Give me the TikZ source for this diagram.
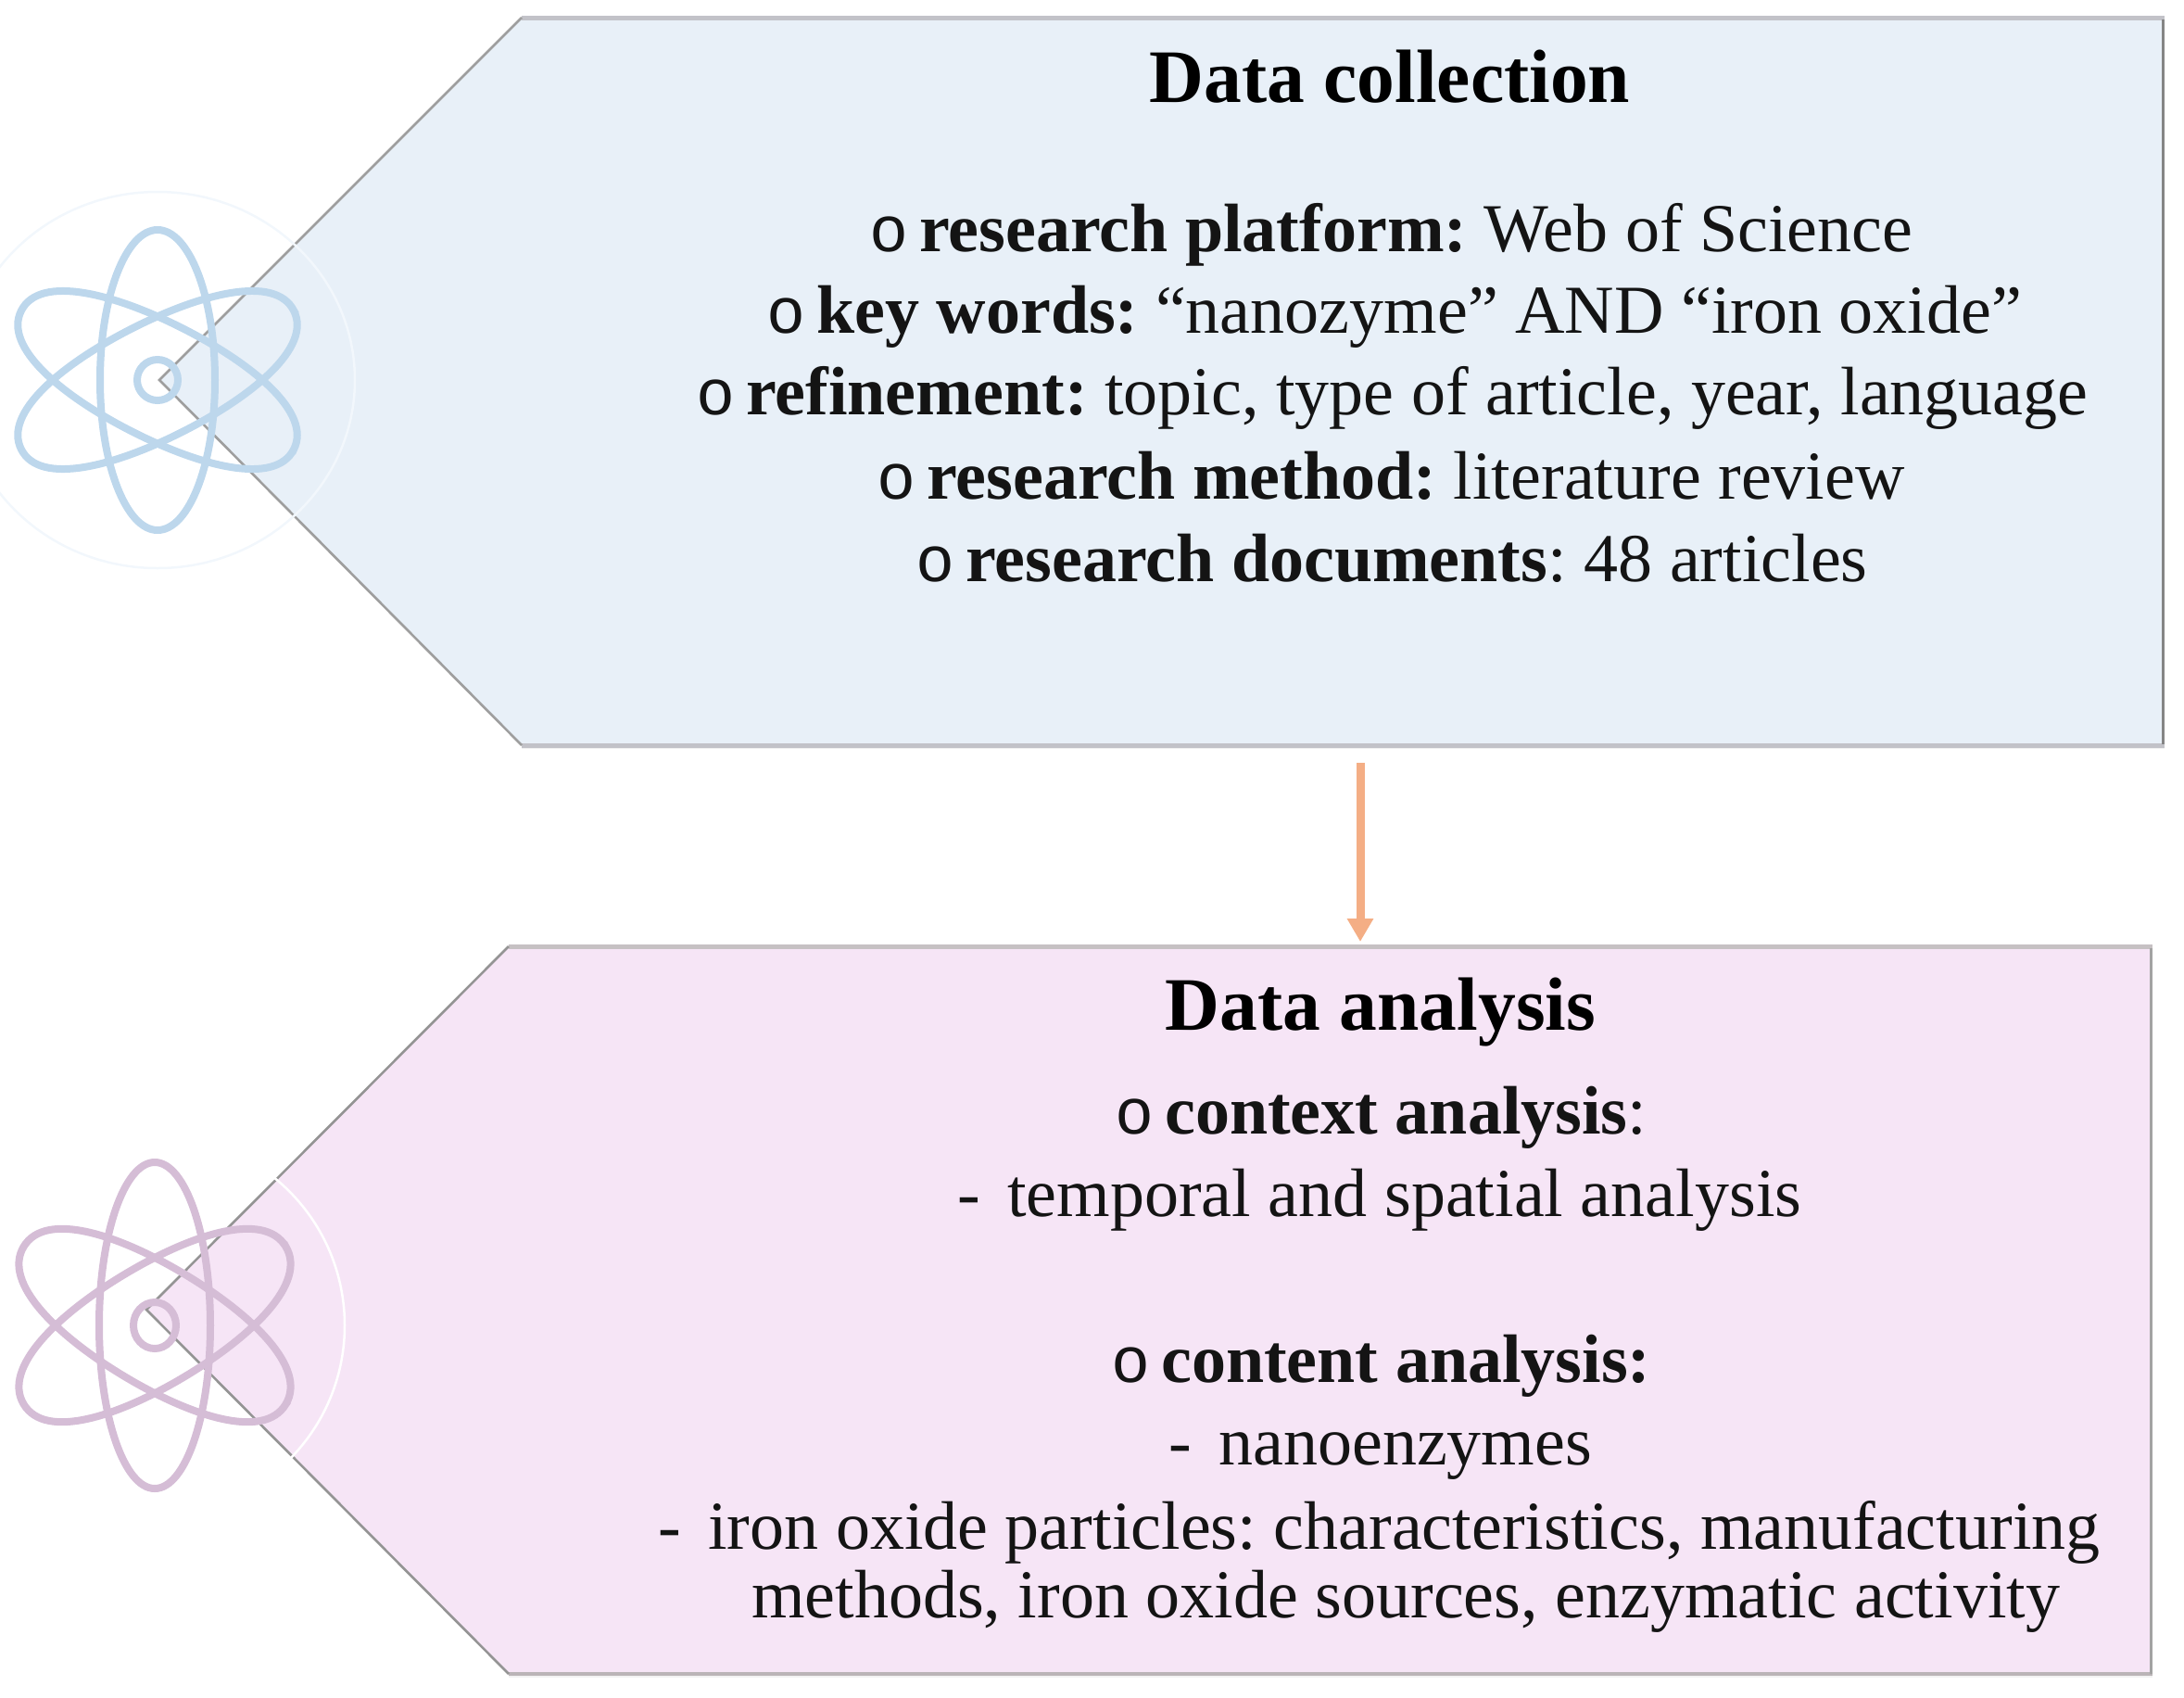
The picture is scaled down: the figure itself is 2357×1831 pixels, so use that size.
\documentclass[tikz,border=0pt]{standalone}
\usepackage{fontspec}
\setmainfont{Liberation Serif}
\newfontfamily\bulfont{Liberation Mono}
\usetikzlibrary{arrows.meta}
\definecolor{bluefill}{HTML}{E8F0F8}
\definecolor{pinkfill}{HTML}{F6E5F6}
\definecolor{blueatom}{HTML}{BDD7EC}
\definecolor{pinkatom}{HTML}{D5BDD6}
\definecolor{arrowc}{HTML}{F4AE85}
\definecolor{paleline}{HTML}{F2F7FC}
\newcommand{\bul}{{\fontsize{70}{74}\selectfont\bulfont\mdseries o}\hspace{12pt}}
\newcommand{\dashgap}{-\hspace{29.5pt}}
\newcommand{\gp}{\hspace{18.5pt}}
\newcommand{\petal}[5]{%
  \draw[shift={(#1,#2)},rotate=#3]
    (#4,0) .. controls (#4,0.72*#5) and (0.5*#4,#5) .. (0,#5)
    .. controls (-0.5*#4,#5) and (-#4,0.72*#5) .. (-#4,0)
    .. controls (-#4,-0.72*#5) and (-0.5*#4,-#5) .. (0,-#5)
    .. controls (0.5*#4,-#5) and (#4,-0.72*#5) .. cycle;}
\tikzset{
  x=1pt,y=-1pt,
  txt/.style={anchor=base west,inner sep=0pt,text=black!92,font=\fontsize{74}{78}\selectfont},
  head/.style={anchor=base,inner sep=0pt,text=black,font=\fontsize{81.5}{85}\selectfont\bfseries},
  diag/.style={line width=2.6pt},
}
\begin{document}
\begin{tikzpicture}
\useasboundingbox (0,0) rectangle (2357,1831);
% upper box
\fill[bluefill] (172,410) -- (563,19) -- (2334,19) -- (2334,804) -- (563,804) -- cycle;
\draw[color=black!6,line width=2pt] (563,807) -- (2336,807);
\draw[color=blue!10!black!24,line width=5pt] (563,19) -- (2336,19);
\draw[color=blue!10!black!24,line width=5pt] (563,804) -- (2336,804);
\draw[color=black!48,line width=3pt] (2334,21) -- (2334,803);
\draw[color=black!38,diag] (563,19) -- (172,410) -- (563,804);
\draw[color=paleline,line width=2.5pt] (170,410) ellipse [x radius=213,y radius=203];
% lower box
\fill[pinkfill] (158,1413) -- (549,1021) -- (2321,1021) -- (2321,1805) -- (549,1805) -- cycle;
\draw[color=black!5,line width=2pt] (549,1809) -- (2323,1809);
\draw[color=magenta!8!black!28,line width=5pt] (549,1021) -- (2323,1021);
\draw[color=magenta!8!black!34,line width=3.5pt] (549,1806) -- (2323,1806);
\draw[color=black!36,line width=3pt] (2321,1023) -- (2321,1806);
\draw[color=black!42,diag] (549,1021) -- (158,1413) -- (549,1806);
\draw[color=white,line width=2.5pt] (167,1430) circle [radius=205];
% atoms
\begin{scope}[color=blueatom,line width=8pt]
\draw (170,410) ellipse [x radius=62,y radius=162];
\petal{170}{410}{27}{165}{62}
\petal{170}{410}{-27}{165}{62}
\draw (170,410) circle [radius=22];
\end{scope}
\begin{scope}[color=pinkatom,line width=8pt]
\draw (167,1430) ellipse [x radius=60,y radius=176];
\petal{167}{1430}{31}{165}{64}
\petal{167}{1430}{-31}{165}{64}
\draw (167,1430) ellipse [x radius=23,y radius=25];
\end{scope}
% arrow
\coordinate (arrowfrom) at (1468,823);
\coordinate (arrowto) at (1468,1016);
\draw[-{Triangle[width=27pt,length=25pt]},color=arrowc,line width=9pt] (arrowfrom) -- (arrowto);
% texts upper
\node[head] (t1) at (1500,110) {Data collection};
\node[txt] (a1) at (938,271) {\bul\textbf{research platform:}\gp Web of Science};
\node[txt] (a2) at (827,359) {\bul\textbf{key words:}\gp “nanozyme” AND “iron oxide”};
\node[txt] (a3) at (751,447) {\bul\textbf{refinement:}\gp topic, type of article, year, language};
\node[txt] (a4) at (946,538) {\bul\textbf{research method:}\gp literature review};
\node[txt] (a5) at (988,627) {\bul\textbf{research documents}:\gp 48 articles};
% texts lower
\node[head] (t2) at (1490,1111) {Data analysis};
\node[txt] (b1) at (1203,1223) {\bul\textbf{context analysis}:};
\node[txt] (b2) at (1033,1312) {\dashgap temporal and spatial analysis};
\node[txt] (b3) at (1199,1491) {\bul\textbf{content analysis:}};
\node[txt] (b4) at (1261,1580) {\dashgap nanoenzymes};
\node[txt] (b5) at (710,1671) {\dashgap iron oxide particles:\gp characteristics, manufacturing};
\node[txt] (b6) at (811,1745) {methods, iron oxide sources, enzymatic activity};
\end{tikzpicture}
\end{document}
